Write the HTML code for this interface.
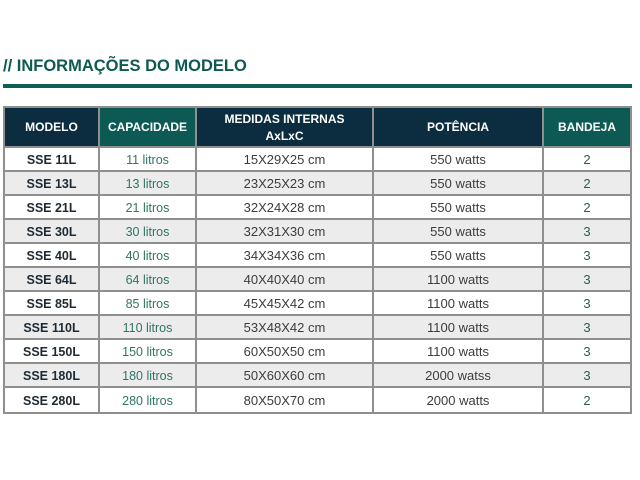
<!DOCTYPE html>
<html><head><meta charset="utf-8">
<style>
html,body{margin:0;padding:0;background:#fff;}
body{width:640px;height:480px;position:relative;overflow:hidden;font-family:"Liberation Sans",sans-serif;}
.title{position:absolute;left:3px;top:56px;font-size:16.5px;font-weight:bold;color:#0e5a52;white-space:nowrap;line-height:20px;}
.gline{position:absolute;left:3px;top:84px;width:629px;height:4px;background:#0e5f55;}
.r{position:absolute;left:3px;width:629px;}
.c{position:absolute;text-align:center;white-space:nowrap;}
.h{color:#fff;font-weight:bold;font-size:12px;}
.vl{position:absolute;width:2px;background:#8f8f8f;top:106px;height:308px;}
.hl{position:absolute;left:3px;width:629px;height:2px;background:#8f8f8f;}
.m{font-weight:bold;font-size:12.5px;color:#1e2a33;}
.cap{font-size:12.5px;color:#2f7466;}
.d{font-size:13px;color:#3c3c3c;}
.b{font-size:13px;color:#2d5c55;}
</style></head><body>
<div class="title">// INFORMAÇÕES DO MODELO</div>
<div class="gline"></div>

<!-- header backgrounds -->
<div style="position:absolute;left:3px;top:106px;width:629px;height:42px;background:#0b2d3f;"></div>
<div style="position:absolute;left:98px;top:106px;width:99px;height:42px;background:#0c5a53;"></div>
<div style="position:absolute;left:542px;top:106px;width:90px;height:42px;background:#0c5a53;"></div>

<div id="rows"></div>

<!-- header text -->
<div class="c h" style="left:5px;width:93px;top:119px;line-height:16px;">MODELO</div>
<div class="c h" style="left:100px;width:95px;top:119px;line-height:16px;">CAPACIDADE</div>
<div class="c h" style="left:197px;width:175px;top:111px;line-height:17px;">MEDIDAS INTERNAS<br>AxLxC</div>
<div class="c h" style="left:374px;width:168px;top:119px;line-height:16px;">POTÊNCIA</div>
<div class="c h" style="left:544px;width:86px;top:119px;line-height:16px;">BANDEJA</div>

<!-- data rows -->
<div class="r" style="top:148px;height:22px;background:#fff;"></div>
<div class="r" style="top:172px;height:22px;background:#ececec;"></div>
<div class="r" style="top:196px;height:22px;background:#fff;"></div>
<div class="r" style="top:220px;height:22px;background:#ececec;"></div>
<div class="r" style="top:244px;height:22px;background:#fff;"></div>
<div class="r" style="top:268px;height:22px;background:#ececec;"></div>
<div class="r" style="top:292px;height:22px;background:#fff;"></div>
<div class="r" style="top:316px;height:22px;background:#ececec;"></div>
<div class="r" style="top:340px;height:22px;background:#fff;"></div>
<div class="r" style="top:364px;height:22px;background:#ececec;"></div>
<div class="r" style="top:388px;height:24px;background:#fff;"></div>

<!-- grid lines -->
<div class="hl" style="top:106px;"></div>
<div class="hl" style="top:146px;"></div>
<div class="hl" style="top:170px;"></div>
<div class="hl" style="top:194px;"></div>
<div class="hl" style="top:218px;"></div>
<div class="hl" style="top:242px;"></div>
<div class="hl" style="top:266px;"></div>
<div class="hl" style="top:290px;"></div>
<div class="hl" style="top:314px;"></div>
<div class="hl" style="top:338px;"></div>
<div class="hl" style="top:362px;"></div>
<div class="hl" style="top:386px;"></div>
<div class="hl" style="top:412px;"></div>
<div class="vl" style="left:3px;"></div>
<div class="vl" style="left:98px;"></div>
<div class="vl" style="left:195px;"></div>
<div class="vl" style="left:372px;"></div>
<div class="vl" style="left:542px;"></div>
<div class="vl" style="left:630px;"></div>

<!-- cell text rows: top = row top, line-height 22 -->
<div style="position:absolute;left:0;top:149px;width:640px;height:22px;line-height:22px;">
<div class="c m" style="left:5px;width:93px;">SSE 11L</div><div class="c cap" style="left:100px;width:95px;">11 litros</div><div class="c d" style="left:197px;width:175px;">15X29X25 cm</div><div class="c d" style="left:374px;width:168px;">550 watts</div><div class="c b" style="left:544px;width:86px;">2</div></div>
<div style="position:absolute;left:0;top:173px;width:640px;height:22px;line-height:22px;">
<div class="c m" style="left:5px;width:93px;">SSE 13L</div><div class="c cap" style="left:100px;width:95px;">13 litros</div><div class="c d" style="left:197px;width:175px;">23X25X23 cm</div><div class="c d" style="left:374px;width:168px;">550 watts</div><div class="c b" style="left:544px;width:86px;">2</div></div>
<div style="position:absolute;left:0;top:197px;width:640px;height:22px;line-height:22px;">
<div class="c m" style="left:5px;width:93px;">SSE 21L</div><div class="c cap" style="left:100px;width:95px;">21 litros</div><div class="c d" style="left:197px;width:175px;">32X24X28 cm</div><div class="c d" style="left:374px;width:168px;">550 watts</div><div class="c b" style="left:544px;width:86px;">2</div></div>
<div style="position:absolute;left:0;top:221px;width:640px;height:22px;line-height:22px;">
<div class="c m" style="left:5px;width:93px;">SSE 30L</div><div class="c cap" style="left:100px;width:95px;">30 litros</div><div class="c d" style="left:197px;width:175px;">32X31X30 cm</div><div class="c d" style="left:374px;width:168px;">550 watts</div><div class="c b" style="left:544px;width:86px;">3</div></div>
<div style="position:absolute;left:0;top:245px;width:640px;height:22px;line-height:22px;">
<div class="c m" style="left:5px;width:93px;">SSE 40L</div><div class="c cap" style="left:100px;width:95px;">40 litros</div><div class="c d" style="left:197px;width:175px;">34X34X36 cm</div><div class="c d" style="left:374px;width:168px;">550 watts</div><div class="c b" style="left:544px;width:86px;">3</div></div>
<div style="position:absolute;left:0;top:269px;width:640px;height:22px;line-height:22px;">
<div class="c m" style="left:5px;width:93px;">SSE 64L</div><div class="c cap" style="left:100px;width:95px;">64 litros</div><div class="c d" style="left:197px;width:175px;">40X40X40 cm</div><div class="c d" style="left:374px;width:168px;">1100 watts</div><div class="c b" style="left:544px;width:86px;">3</div></div>
<div style="position:absolute;left:0;top:293px;width:640px;height:22px;line-height:22px;">
<div class="c m" style="left:5px;width:93px;">SSE 85L</div><div class="c cap" style="left:100px;width:95px;">85 litros</div><div class="c d" style="left:197px;width:175px;">45X45X42 cm</div><div class="c d" style="left:374px;width:168px;">1100 watts</div><div class="c b" style="left:544px;width:86px;">3</div></div>
<div style="position:absolute;left:0;top:317px;width:640px;height:22px;line-height:22px;">
<div class="c m" style="left:5px;width:93px;">SSE 110L</div><div class="c cap" style="left:100px;width:95px;">110 litros</div><div class="c d" style="left:197px;width:175px;">53X48X42 cm</div><div class="c d" style="left:374px;width:168px;">1100 watts</div><div class="c b" style="left:544px;width:86px;">3</div></div>
<div style="position:absolute;left:0;top:341px;width:640px;height:22px;line-height:22px;">
<div class="c m" style="left:5px;width:93px;">SSE 150L</div><div class="c cap" style="left:100px;width:95px;">150 litros</div><div class="c d" style="left:197px;width:175px;">60X50X50 cm</div><div class="c d" style="left:374px;width:168px;">1100 watts</div><div class="c b" style="left:544px;width:86px;">3</div></div>
<div style="position:absolute;left:0;top:365px;width:640px;height:22px;line-height:22px;">
<div class="c m" style="left:5px;width:93px;">SSE 180L</div><div class="c cap" style="left:100px;width:95px;">180 litros</div><div class="c d" style="left:197px;width:175px;">50X60X60 cm</div><div class="c d" style="left:374px;width:168px;">2000 watss</div><div class="c b" style="left:544px;width:86px;">3</div></div>
<div style="position:absolute;left:0;top:390px;width:640px;height:22px;line-height:22px;">
<div class="c m" style="left:5px;width:93px;">SSE 280L</div><div class="c cap" style="left:100px;width:95px;">280 litros</div><div class="c d" style="left:197px;width:175px;">80X50X70 cm</div><div class="c d" style="left:374px;width:168px;">2000 watts</div><div class="c b" style="left:544px;width:86px;">2</div></div>
</body></html>
